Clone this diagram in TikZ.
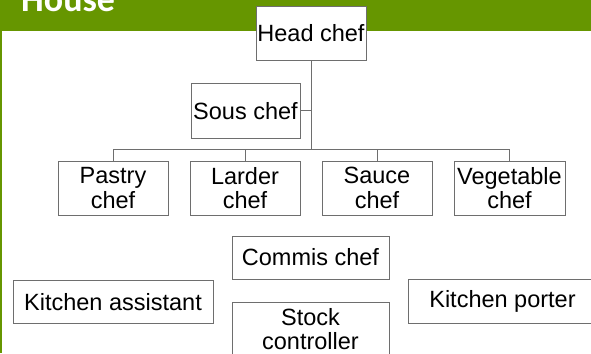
\documentclass[tikz,border=0pt]{standalone}
\usepackage{fontspec}
\setmainfont{Liberation Sans}
\newfontfamily\titlefont{Carlito}
\definecolor{barGreen}{RGB}{102,150,0}
\definecolor{boxLine}{RGB}{110,110,110}
\begin{document}
\begin{tikzpicture}[x=1pt,y=-1pt,
  rolebox/.style={draw=boxLine, line width=0.9pt, fill=white, inner sep=0pt,
    align=center, font=\fontsize{23.5}{24.5}\selectfont},
  link/.style={draw=boxLine, line width=0.9pt}]
  \useasboundingbox (0,0) rectangle (591,353);
  \begin{scope}
    \clip (0,0) rectangle (591,353);
    % title bar and left rule
    \fill[barGreen] (0,0) rectangle (591,31.5);
    \fill[barGreen] (0,31.5) rectangle (2.2,353);
    \node[anchor=base west, inner sep=0pt, text=white,
      font=\titlefont\bfseries\fontsize{36}{40}\selectfont] (title) at (21,12) {House};

    % boxes
    \node[rolebox, minimum width=110, minimum height=54.5] (head) at (311,33.25) {Head chef};
    \node[rolebox, minimum width=109, minimum height=54.5] (sous) at (245.5,110.75) {Sous chef};
    \node[rolebox, minimum width=110, minimum height=54] (pastry) at (113,188) {Pastry\\chef};
    \node[rolebox, minimum width=110, minimum height=54] (larder) at (245,188) {Larder\\chef};
    \node[rolebox, minimum width=110, minimum height=54] (sauce) at (377,188) {Sauce\\chef};
    \node[rolebox, minimum width=111, minimum height=54] (veg) at (509.5,188) {Vegetable\\chef};
    \node[rolebox, minimum width=157, minimum height=43] (commis) at (310.5,257.5) {Commis chef};
    \node[rolebox, minimum width=200, minimum height=43.5] (kassist) at (113,301.75) {Kitchen assistant};
    \node[rolebox, minimum width=189, minimum height=44] (kporter) at (502.5,301) {Kitchen porter};
    \node[rolebox, minimum width=157, minimum height=54] (stock) at (310.5,329) {Stock\\controller};

    % connectors
    \coordinate (bus) at (0,149);
    \draw[link] (head.south) -- (head.south |- bus);
    \draw[link] (sous.east) -- (sous.east -| head.south);
    \draw[link] (pastry.north) -- (pastry.north |- bus) -| (veg.north);
    \draw[link] (larder.north) -- (larder.north |- bus);
    \draw[link] (sauce.north) -- (sauce.north |- bus);
  \end{scope}
\end{tikzpicture}
\end{document}
